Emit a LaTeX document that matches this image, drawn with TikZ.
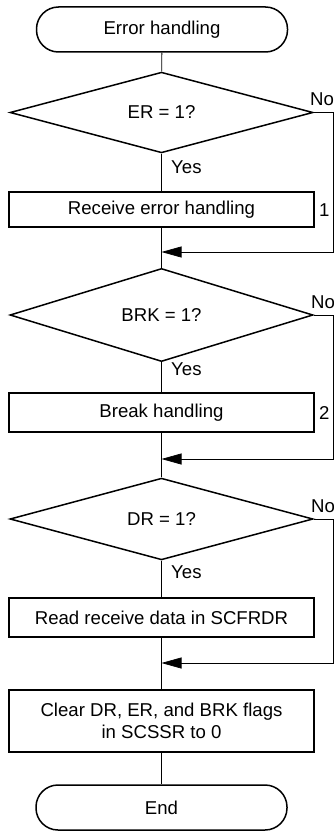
\documentclass[tikz,border=0pt]{standalone}
\usepackage{fontspec}
\setmainfont{Liberation Sans}
\usetikzlibrary{shapes.geometric,arrows.meta}
\begin{document}
\begin{tikzpicture}[x=1pt,y=-1pt,
  txt/.style={font=\fontsize{18.6}{22}\selectfont},
  terminal/.style={txt,draw,line width=1.5pt,rounded corners=22pt,minimum width=251pt,minimum height=45pt,inner sep=0pt},
  decision/.style={txt,draw,diamond,line width=1.5pt,minimum width=303pt,minimum height=69pt,inner sep=0pt},
  process/.style={txt,draw,line width=1.5pt,minimum width=305pt,inner sep=0pt,align=center},
  flow/.style={line width=0.8pt},
  back/.style={line width=0.7pt,-{Triangle[length=20pt,width=11pt]}},
  lbl/.style={txt,inner sep=0pt}]
\useasboundingbox (0,0) rectangle (334,832);
\node[terminal] (start) at (162,29.5) {Error handling};
\node[decision] (d1) at (161.5,112.5) {ER = 1?};
\node[process,minimum height=35pt] (r1) at (161.5,209.5) {Receive error handling};
\node[decision,minimum height=70pt] (d2) at (161.5,315) {BRK = 1?};
\node[process,minimum height=39pt] (r2) at (161.5,412.5) {Break handling};
\node[decision,minimum height=68pt] (d3) at (161.5,519) {DR = 1?};
\node[process,minimum height=39pt] (r3) at (161.5,617.5) {Read receive data in SCFRDR};
\node[process,minimum height=62pt] (r4) at (161.5,721) {Clear DR, ER, and BRK flags\\in SCSSR to 0};
\node[terminal] (end) at (161.5,807.5) {End};

\coordinate (j1) at (161.5,252);
\coordinate (j2) at (161.5,459);
\coordinate (j3) at (161.5,663);
\coordinate (c1) at (333,252);
\coordinate (c2) at (333,459);
\coordinate (c3) at (333,663);

\draw[flow] (start) -- (d1);
\draw[flow] (d1) -- (r1);
\draw[flow] (r1) -- (d2);
\draw[flow] (d2) -- (r2);
\draw[flow] (r2) -- (d3);
\draw[flow] (d3) -- (r3);
\draw[flow] (r3) -- (r4);
\draw[flow] (r4) -- (end);

\draw[back] (d1.east) -| (c1) -- (j1);
\draw[back] (d2.east) -| (c2) -- (j2);
\draw[back] (d3.east) -| (c3) -- (j3);

\node[lbl,anchor=base west] (no1) at (310,106) {No};
\node[lbl,anchor=base west] (no2) at (311,308) {No};
\node[lbl,anchor=base west] (no3) at (311,512) {No};
\node[lbl,anchor=base west] (y1) at (171,173) {Yes};
\node[lbl,anchor=base west] (y2) at (171,375) {Yes};
\node[lbl,anchor=base west] (y3) at (171,578) {Yes};
\node[lbl,anchor=west] (n1) at (319,210) {1};
\node[lbl,anchor=west] (n2) at (319,413) {2};
\end{tikzpicture}
\end{document}
